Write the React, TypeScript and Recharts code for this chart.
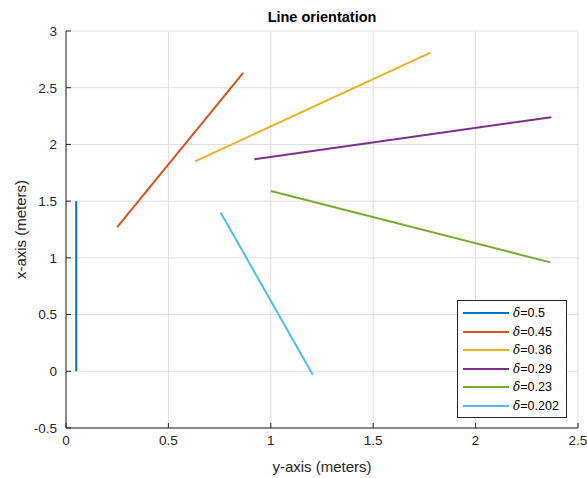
import { LineChart, Line, XAxis, YAxis, CartesianGrid, Legend } from 'recharts';

const deltaLabels = ['0.5', '0.45', '0.36', '0.29', '0.23', '0.202'];
const colors = ['#0072BD', '#D95319', '#EDB120', '#7E2F8E', '#77AC30', '#4DBEEE'];

// each segment: [y-axis start, y-axis end], [x-axis start, x-axis end]
const segX = [
  [0.05, 0.05],
  [0.25, 0.865],
  [0.63, 1.78],
  [0.92, 2.37],
  [1.0, 2.365],
  [0.755, 1.205],
];
const segY = [
  [0, 1.5],
  [1.27, 2.63],
  [1.85, 2.81],
  [1.87, 2.24],
  [1.59, 0.96],
  [1.4, -0.03],
];

const xTicks = [0, 0.5, 1, 1.5, 2, 2.5];
const yTicks = [-0.5, 0, 0.5, 1, 1.5, 2, 2.5, 3];

const series = deltaLabels.map((d, i) => ({
  name: d,
  color: colors[i],
  data: segX[i].map((x, j) => ({ x, y: segY[i][j] })),
}));

const font = 'Liberation Sans, Arial, Helvetica, sans-serif';
const axisColor = '#262626';

function LegendBox() {
  return (
    <div
      style={{
        position: 'absolute',
        left: 457,
        top: 300,
        width: 108,
        border: '1px solid #262626',
        background: '#fff',
        padding: '3px 0 2px 0',
        fontFamily: font,
        fontSize: 12.5,
        color: '#000',
      }}
    >
      {series.map((s) => (
        <div key={s.name} style={{ display: 'flex', alignItems: 'center', height: 18.5 }}>
          <div style={{ width: 46, height: 2, background: s.color, marginLeft: 5, marginRight: 4 }} />
          <span>
            <i style={{ fontFamily: 'DejaVu Serif, serif', fontSize: 12 }}>δ</i>=
            {s.name}
          </span>
        </div>
      ))}
    </div>
  );
}

export default function App() {
  return (
    <div style={{ position: 'absolute', left: 0, top: 0, width: 587, height: 478, background: '#fff' }}>
      <LineChart width={587} height={478} margin={{ top: 31, right: 9, bottom: 0, left: 0 }}>
        <CartesianGrid stroke="#dfdfdf" strokeWidth={1} />
        <XAxis
          type="number"
          dataKey="x"
          domain={[0, 2.5]}
          ticks={xTicks}
          allowDuplicatedCategory={false}
          height={50}
          stroke={axisColor}
          tickSize={-5}
          tickMargin={12}
          tick={{ fill: axisColor, fontSize: 13.5, fontFamily: font }}
          label={{ value: 'y-axis (meters)', position: 'insideBottom', offset: 6, fill: axisColor, fontSize: 15, fontFamily: font }}
        />
        <YAxis
          type="number"
          dataKey="y"
          domain={[-0.5, 3]}
          ticks={yTicks}
          width={66}
          stroke={axisColor}
          tickSize={-5}
          tickMargin={14}
          tick={{ fill: axisColor, fontSize: 13.5, fontFamily: font }}
          label={{ value: 'x-axis (meters)', angle: -90, position: 'insideLeft', offset: 21, style: { textAnchor: 'middle' }, fill: axisColor, fontSize: 15, fontFamily: font }}
        />
        {series.map((s) => (
          <Line
            key={s.name}
            data={s.data}
            dataKey="y"
            name={s.name}
            stroke={s.color}
            strokeWidth={2}
            dot={false}
            activeDot={false}
            isAnimationActive={false}
          />
        ))}
        <Legend content={() => null} />
        <text x={322} y={22} textAnchor="middle" fontFamily={font} fontSize={14.5} fontWeight="bold" fill="#000">
          Line orientation
        </text>
      </LineChart>
      <LegendBox />
    </div>
  );
}
